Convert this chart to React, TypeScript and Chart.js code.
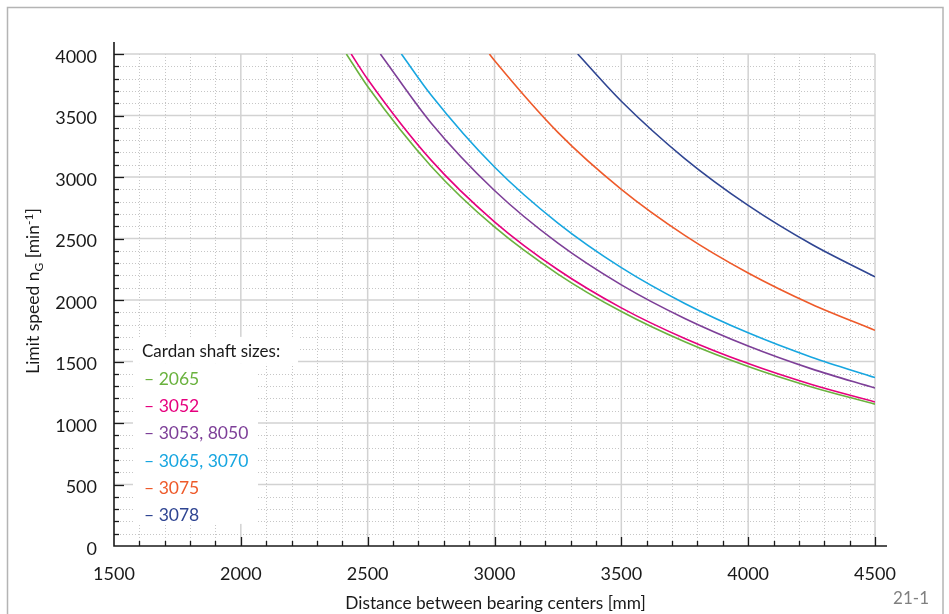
import React, { useEffect, useRef } from "react";
import { Chart, registerables } from "chart.js";

Chart.register(...registerables);

// ---- Data ----
const seriesLabels = ["2065", "3052", "3053, 8050", "3065, 3070", "3075", "3078"];
const seriesColors = ["#6ab23e", "#e6007e", "#7d3f98", "#17a6e0", "#ee5a2a", "#2f4592"];

const x2065 = [2416, 2500, 2750, 3000, 3250, 3500, 3750, 4000, 4250, 4500];
const y2065 = [4000, 3736, 3088, 2594, 2211, 1906, 1660, 1459, 1293, 1153];

const x3052 = [2435, 2500, 2750, 3000, 3250, 3500, 3750, 4000, 4250, 4500];
const y3052 = [4000, 3795, 3137, 2636, 2246, 1936, 1687, 1483, 1313, 1171];

const x3053 = [2550, 2750, 3000, 3250, 3500, 3750, 4000, 4250, 4500];
const y3053 = [4000, 3439, 2890, 2462, 2123, 1850, 1626, 1440, 1284];

const x3065 = [2633, 2750, 3000, 3250, 3500, 3750, 4000, 4250, 4500];
const y3065 = [4000, 3667, 3081, 2625, 2263, 1972, 1733, 1535, 1369];

const x3075 = [2980, 3000, 3250, 3500, 3750, 4000, 4250, 4500];
const y3075 = [4000, 3947, 3363, 2900, 2526, 2220, 1966, 1754];

const x3078 = [3328, 3500, 3750, 4000, 4250, 4500];
const y3078 = [4000, 3616, 3150, 2769, 2453, 2188];

const seriesX = [x2065, x3052, x3053, x3065, x3075, x3078];
const seriesY = [y2065, y3052, y3053, y3065, y3075, y3078];

const X_MIN = 1500, X_MAX = 4500, X_MAJOR = 500, X_MINOR = 100;
const Y_MIN = 0, Y_MAX = 4000, Y_MAJOR = 500, Y_MINOR = 100;

const xTitle = "Distance between bearing centers [mm]";
const legendTitle = "Cardan shaft sizes:";
const figureNo = "21-1";

const FONT = "Lato, 'DejaVu Sans', sans-serif";
const TEXT = "#1a1a1a";

const customPlugin = {
  id: "custom",
  beforeDatasetsDraw(chart: any) {
    const { ctx, chartArea, scales } = chart;
    const { left, right, top, bottom } = chartArea;
    const xs = scales.x, ys = scales.y;
    ctx.save();
    // minor dotted grid
    ctx.strokeStyle = "#c6c6c6";
    ctx.lineWidth = 1;
    ctx.setLineDash([1, 2]);
    for (let v = X_MIN + X_MINOR; v < X_MAX + 1; v += X_MINOR) {
      if (v % X_MAJOR === 0) continue;
      const px = Math.round(xs.getPixelForValue(v)) + 0.5;
      ctx.beginPath(); ctx.moveTo(px, top); ctx.lineTo(px, bottom); ctx.stroke();
    }
    for (let v = Y_MIN + Y_MINOR; v < Y_MAX + 1; v += Y_MINOR) {
      if (v % Y_MAJOR === 0) continue;
      const py = Math.round(ys.getPixelForValue(v)) + 0.5;
      ctx.beginPath(); ctx.moveTo(left, py); ctx.lineTo(right, py); ctx.stroke();
    }
    // major solid grid
    ctx.setLineDash([]);
    ctx.strokeStyle = "#d2d2d2";
    ctx.lineWidth = 1.5;
    for (let v = X_MIN + X_MAJOR; v <= X_MAX; v += X_MAJOR) {
      const px = xs.getPixelForValue(v);
      ctx.beginPath(); ctx.moveTo(px, top); ctx.lineTo(px, bottom); ctx.stroke();
    }
    for (let v = Y_MIN + Y_MAJOR; v <= Y_MAX; v += Y_MAJOR) {
      const py = ys.getPixelForValue(v);
      ctx.beginPath(); ctx.moveTo(left, py); ctx.lineTo(right, py); ctx.stroke();
    }
    // legend background
    ctx.fillStyle = "#ffffff";
    ctx.fillRect(left + 19, ys.getPixelForValue(1700), 165, 27);
    ctx.fillRect(left + 19, ys.getPixelForValue(1700) + 27, 125, 160);
    ctx.restore();
  },
  afterDraw(chart: any) {
    const { ctx, chartArea, scales } = chart;
    const { left, right, top, bottom } = chartArea;
    const xs = scales.x, ys = scales.y;
    ctx.save();
    // axes
    ctx.strokeStyle = TEXT;
    ctx.lineWidth = 1.6;
    ctx.beginPath();
    ctx.moveTo(left, top - 12);
    ctx.lineTo(left, bottom);
    ctx.lineTo(right + 12, bottom);
    ctx.stroke();
    ctx.lineWidth = 1.3;
    for (let v = Y_MIN + Y_MINOR; v <= Y_MAX; v += Y_MINOR) {
      const py = Math.round(ys.getPixelForValue(v)) + 0.5;
      const len = v % Y_MAJOR === 0 ? 10 : 5;
      ctx.beginPath(); ctx.moveTo(left, py); ctx.lineTo(left + len, py); ctx.stroke();
    }
    for (let v = X_MIN + X_MINOR; v <= X_MAX; v += X_MINOR) {
      const px = Math.round(xs.getPixelForValue(v)) + 0.5;
      const len = v % X_MAJOR === 0 ? 9 : 5;
      ctx.beginPath(); ctx.moveTo(px, bottom); ctx.lineTo(px, bottom - len); ctx.stroke();
    }
    // x title
    ctx.fillStyle = TEXT;
    ctx.font = `17.3px ${FONT}`;
    ctx.textAlign = "center";
    ctx.textBaseline = "middle";
    ctx.fillText(xTitle, (left + right) / 2 + 1, 603);
    // y title with sub/superscripts
    ctx.save();
    ctx.translate(33, 291);
    ctx.rotate(-Math.PI / 2);
    const parts = [
      { t: "Limit speed n", size: 17.5, dy: 0 },
      { t: "G", size: 12, dy: 4 },
      { t: " [min", size: 17.5, dy: 0 },
      { t: "-1", size: 12, dy: -6 },
      { t: "]", size: 17.5, dy: 0 },
    ];
    let total = 0;
    for (const p of parts) { ctx.font = `${p.size}px ${FONT}`; total += ctx.measureText(p.t).width; }
    let cx = -total / 2;
    ctx.textAlign = "left";
    ctx.textBaseline = "alphabetic";
    for (const p of parts) {
      ctx.font = `${p.size}px ${FONT}`;
      ctx.fillText(p.t, cx, 6 + p.dy);
      cx += ctx.measureText(p.t).width;
    }
    ctx.restore();
    // legend
    ctx.textAlign = "left";
    ctx.textBaseline = "middle";
    ctx.font = `17px ${FONT}`;
    ctx.fillStyle = TEXT;
    ctx.fillText(legendTitle, left + 28, 352);
    ctx.font = `17.5px ${FONT}`;
    chart.data.datasets.forEach((ds: any, i: number) => {
      ctx.fillStyle = ds.borderColor;
      ctx.fillText("\u2013 " + ds.label, left + 30, 379 + i * 27.3);
    });
    // figure number
    ctx.fillStyle = "#808080";
    ctx.font = `17px ${FONT}`;
    ctx.textAlign = "right";
    ctx.fillText(figureNo, 929, 599);
    // frame
    ctx.strokeStyle = "#b4b4b4";
    ctx.lineWidth = 1.5;
    ctx.strokeRect(7.5, 7.5, 935.5, 640);
    ctx.restore();
  },
};

export default function App() {
  const ref = useRef<HTMLCanvasElement | null>(null);
  useEffect(() => {
    document.body.style.margin = "0";
    const canvas = ref.current!;
    const datasets = seriesLabels.map((label, i) => ({
      label,
      data: seriesX[i].map((xv, j) => ({ x: xv, y: seriesY[i][j] })),
      borderColor: seriesColors[i],
      backgroundColor: seriesColors[i],
      borderWidth: 1.6,
      pointRadius: 0,
      cubicInterpolationMode: "monotone" as const,
      fill: false,
    }));
    const plain = (v: any) => String(v);
    const chart = new Chart(canvas, {
      type: "line",
      data: { datasets },
      options: {
        responsive: false,
        animation: false,
        devicePixelRatio: 1,
        layout: { padding: { left: 0, right: 74, top: 54, bottom: 0 } },
        plugins: { legend: { display: false }, tooltip: { enabled: false } },
        scales: {
          x: {
            type: "linear",
            min: X_MIN,
            max: X_MAX,
            grid: { display: false, drawTicks: false },
            border: { display: false },
            ticks: { stepSize: X_MAJOR, padding: 17, color: TEXT, callback: plain, font: { family: FONT, size: 18 } },
            afterFit: (s: any) => { s.height = 68; },
          },
          y: {
            type: "linear",
            min: Y_MIN,
            max: Y_MAX,
            grid: { display: false, drawTicks: false },
            border: { display: false },
            ticks: { stepSize: Y_MAJOR, padding: 17, labelOffset: 3, color: TEXT, callback: plain, font: { family: FONT, size: 18 } },
            afterFit: (s: any) => { s.width = 114; },
          },
        },
      },
      plugins: [customPlugin],
    });
    return () => chart.destroy();
  }, []);
  return (
    <div style={{ position: "fixed", left: 0, top: 0, width: 949, height: 614, background: "#fff" }}>
      <canvas ref={ref} width={949} height={614} />
    </div>
  );
}
